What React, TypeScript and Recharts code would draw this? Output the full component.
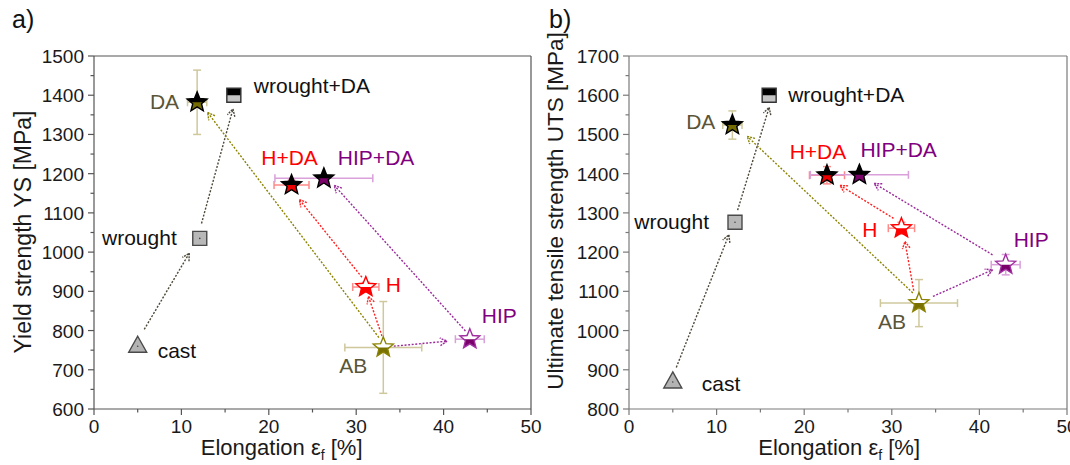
import React from "react"
import { ScatterChart, Scatter, XAxis, YAxis, ErrorBar, ReferenceLine, Label } from "recharts"

const FONT = '"Liberation Sans", Arial, sans-serif'

// samples, same order in every array
const samples = ["cast", "wrought", "wrought+DA", "DA", "AB", "H", "H+DA", "HIP", "HIP+DA"]
const elongation = [5, 12.1, 16, 11.8, 33.1, 31.1, 22.6, 43, 26.3]
const elongationErr = [0, 0, 0, 1.1, 4.4, 1.5, 2, 1.65, 5.6]
const yieldStrength = [760, 1035, 1400, 1382, 757, 911, 1171, 778, 1188]
const yieldErr = [0, 0, 0, 82, 117, 12, 12, 10, 8]
const uts = [869, 1276, 1600, 1524, 1070, 1261, 1396, 1168, 1397]
const utsErr = [0, 0, 0, 36, 60, 15, 22, 26, 10]

const xTicks = [0, 5, 10, 15, 20, 25, 30, 35, 40, 45, 50]
const ysTicks = [600, 650, 700, 750, 800, 850, 900, 950, 1000, 1050, 1100, 1150, 1200, 1250, 1300, 1350, 1400, 1450, 1500]
const utsTicks = [800, 850, 900, 950, 1000, 1050, 1100, 1150, 1200, 1250, 1300, 1350, 1400, 1450, 1500, 1550, 1600, 1650, 1700]

// processing route arrows: [x1, y1, x2, y2, group]
const ysArrows: [number, number, number, number, string][] = [
  [5.75, 803, 10.9, 997, "dark"],
  [12.3, 1073, 15.9, 1365, "dark"],
  [32.6, 782, 13.0, 1356, "olive"],
  [32.95, 786, 31.4, 887, "red"],
  [30.65, 936, 23.5, 1134, "red"],
  [34.3, 760, 40.4, 773, "purple"],
  [42.5, 799, 27.5, 1170, "purple"],
]
const utsArrows: [number, number, number, number, string][] = [
  [5.4, 906, 11.4, 1244, "dark"],
  [12.4, 1307, 16.0, 1569, "dark"],
  [32.4, 1096, 13.5, 1495, "olive"],
  [32.5, 1102, 31.5, 1227, "red"],
  [30.2, 1286, 24.1, 1370, "red"],
  [34.7, 1087, 41.5, 1155, "purple"],
  [41.5, 1193, 28.0, 1375, "purple"],
]

const arrowColor: Record<string, string> = {
  dark: "#4d4838",
  olive: "#8c8400",
  red: "#ff2020",
  purple: "#9a2a9a",
}

const look: Record<string, any> = {
  cast: { kind: "tri", top: "#b3b3b3", bottom: "#b3b3b3", stroke: "#4a4a4a", text: "#111" },
  wrought: { kind: "sq", top: "#b8b8b8", bottom: "#b8b8b8", stroke: "#4a4a4a", text: "#111" },
  "wrought+DA": { kind: "sq", top: "#000", bottom: "#c4c4c4", stroke: "#333", text: "#111" },
  DA: { kind: "star", top: "#000", bottom: "#746c00", stroke: "#000", err: "#cfc89c", text: "#5a5438" },
  AB: { kind: "star", top: "#fff", bottom: "#7a7200", stroke: "#8a8200", err: "#cfc89c", text: "#5a5438" },
  H: { kind: "star", top: "#fff", bottom: "#ff0000", stroke: "#ff0000", err: "#ff8a8a", text: "#ff0000" },
  "H+DA": { kind: "star", top: "#000", bottom: "#ee0000", stroke: "#000", err: "#ff8a8a", text: "#ff0000" },
  HIP: { kind: "star", top: "#fff", bottom: "#7a006a", stroke: "#a030a0", err: "#d9a0d9", text: "#800080" },
  "HIP+DA": { kind: "star", top: "#000", bottom: "#7a006a", stroke: "#000", err: "#d9a0d9", text: "#800080" },
}

const ysLabels: Record<string, [number, number, string]> = {
  cast: [20, 5, "start"],
  wrought: [-23, 0, "end"],
  "wrought+DA": [20, -9, "start"],
  DA: [-18, 0, "end"],
  AB: [-16, 19, "end"],
  H: [20, -2, "start"],
  "H+DA": [-2, -27, "middle"],
  HIP: [12, -23, "start"],
  "HIP+DA": [14, -20, "start"],
}
const utsLabels: Record<string, [number, number, string]> = {
  cast: [29, 2, "start"],
  wrought: [-26, 0, "end"],
  "wrought+DA": [19, 0, "start"],
  DA: [-17, -3, "end"],
  AB: [-13, 19, "end"],
  H: [-24, 2, "end"],
  "H+DA": [-9, -23, "middle"],
  HIP: [8, -25, "start"],
  "HIP+DA": [1, -25, "start"],
}

function starPoints(cx: number, cy: number, R: number, r: number) {
  const pts: string[] = []
  for (let i = 0; i < 10; i++) {
    const a = -Math.PI / 2 + (i * Math.PI) / 5
    const rad = i % 2 === 0 ? R : r
    pts.push(`${cx + rad * Math.cos(a)},${cy + rad * Math.sin(a)}`)
  }
  return pts.join(" ")
}

function Point(props: any) {
  const { cx, cy, name, labels, id } = props
  if (cx == null || cy == null) return null
  const st = look[name]
  const [dx, dy, anchor] = labels[name]
  let pts = ""
  if (st.kind === "star") pts = starPoints(cx, cy, 10.5, 4.6)
  if (st.kind === "sq") pts = `${cx - 7},${cy - 7} ${cx + 7},${cy - 7} ${cx + 7},${cy + 7} ${cx - 7},${cy + 7}`
  if (st.kind === "tri") pts = `${cx},${cy - 10} ${cx + 9},${cy + 6} ${cx - 9},${cy + 6}`
  return (
    <g>
      <defs>
        <clipPath id={id}>
          <rect x={cx - 15} y={cy} width={30} height={16} />
        </clipPath>
      </defs>
      <polygon points={pts} fill={st.top} />
      <polygon points={pts} fill={st.bottom} clipPath={`url(#${id})`} />
      <polygon points={pts} fill="none" stroke={st.stroke} strokeWidth={1.4} />
      {st.kind !== "star" && name !== "wrought+DA" && <circle cx={cx} cy={cy} r={0.8} fill="#444" />}
      <text x={cx + dx} y={cy + dy + 7} textAnchor={anchor} fontSize={21} fontFamily={FONT} fill={st.text}>
        {name}
      </text>
    </g>
  )
}

function Arrow(props: any) {
  const { x1, y1, x2, y2, color } = props
  if (x1 == null) return null
  const ang = Math.atan2(y2 - y1, x2 - x1)
  const L = 8
  const a = 0.5
  const p1 = `${x2 - L * Math.cos(ang - a)},${y2 - L * Math.sin(ang - a)}`
  const p2 = `${x2 - L * Math.cos(ang + a)},${y2 - L * Math.sin(ang + a)}`
  return (
    <g>
      <line x1={x1} y1={y1} x2={x2} y2={y2} stroke={color} strokeWidth={1.4} strokeDasharray="2 1.6" />
      <polyline points={`${p1} ${x2},${y2} ${p2}`} fill="none" stroke={color} strokeWidth={1.4} strokeDasharray="2 1" />
    </g>
  )
}

function XTick(props: any) {
  const { x, y, payload, axisColor } = props
  const v = payload.value
  const major = v % 10 === 0
  return (
    <g>
      <line x1={x} y1={y} x2={x} y2={y + (major ? 6 : 3.5)} stroke={axisColor} strokeWidth={1.2} />
      {major && (
        <text x={x} y={y + 24} textAnchor="middle" fontSize={19} fontFamily={FONT} fill="#1a1a1a">
          {v}
        </text>
      )}
    </g>
  )
}

function YTick(props: any) {
  const { x, y, payload, axisColor } = props
  const v = payload.value
  const major = v % 100 === 0
  return (
    <g>
      <line x1={x} y1={y} x2={x - (major ? 6 : 3.5)} y2={y} stroke={axisColor} strokeWidth={1.2} />
      {major && (
        <text x={x - 10} y={y + 7} textAnchor="end" fontSize={19} fontFamily={FONT} fill="#1a1a1a">
          {v}
        </text>
      )}
    </g>
  )
}

function Panel(props: any) {
  const { values, errors, ticks, domain, arrows, labels, title, titleX, titleY, titleSize, xEnd, width, yWidth, right, axisColor, tag } = props
  return (
    <ScatterChart width={width} height={465} margin={{ top: 56, right: right, bottom: 6, left: 0 }}>
      <XAxis
        type="number"
        dataKey="x"
        domain={[0, 50]}
        ticks={xTicks}
        interval={0}
        tickSize={0}
        tickMargin={0}
        tickLine={false}
        height={50}
        stroke={axisColor}
        strokeWidth={1.2}
        tick={<XTick axisColor={axisColor} />}
      >
        <Label
          content={(p: any) => (
            <text x={p.viewBox.x + p.viewBox.width / 2 + xEnd} y={p.viewBox.y + 46} textAnchor="end" fontSize={22} fontFamily={FONT} fill="#1a1a1a">
              Elongation ε<tspan fontSize={14} dy={5}>f</tspan>
              <tspan dy={-5}> [%]</tspan>
            </text>
          )}
        />
      </XAxis>
      <YAxis
        type="number"
        dataKey="y"
        domain={domain}
        ticks={ticks}
        interval={0}
        tickSize={0}
        tickMargin={0}
        tickLine={false}
        width={yWidth}
        stroke={axisColor}
        strokeWidth={1.2}
        tick={<YTick axisColor={axisColor} />}
      >
        <Label
          content={() => (
            <text
              x={titleX}
              y={titleY}
              transform={`rotate(-90 ${titleX} ${titleY})`}
              textAnchor="middle"
              dominantBaseline="central"
              fontSize={titleSize}
              fontFamily={FONT}
              fill="#1a1a1a"
            >
              {title}
            </text>
          )}
        />
      </YAxis>
      <ReferenceLine y={domain[1]} stroke={axisColor} strokeWidth={1.2} />
      <ReferenceLine x={50} stroke={axisColor} strokeWidth={1.2} />
      {arrows.map((a: any, i: number) => (
        <ReferenceLine
          key={"a" + i}
          segment={[{ x: a[0], y: a[1] }, { x: a[2], y: a[3] }]}
          shape={(p: any) => <Arrow {...p} color={arrowColor[a[4]]} />}
        />
      ))}
      {samples.map((s, i) => (
        <Scatter
          key={s}
          name={s}
          data={[{ x: elongation[i], y: values[i], ex: elongationErr[i], ey: errors[i] }]}
          isAnimationActive={false}
          shape={(p: any) => <Point {...p} name={s} labels={labels} id={`${tag}-${i}`} />}
        >
          {elongationErr[i] > 0 && <ErrorBar dataKey="ex" direction="x" width={4} stroke={look[s].err} strokeWidth={1.5} />}
          {errors[i] > 0 && <ErrorBar dataKey="ey" direction="y" width={4} stroke={look[s].err} strokeWidth={1.5} />}
        </Scatter>
      ))}
    </ScatterChart>
  )
}

export default function App() {
  return (
    <div style={{ position: "absolute", left: 0, top: 0, width: 1070, height: 465, background: "#fff", overflow: "hidden" }}>
      <div style={{ position: "absolute", left: 12, top: 5, fontFamily: FONT, fontSize: 25, color: "#111" }}>a)</div>
      <div style={{ position: "absolute", left: 549, top: 5, fontFamily: FONT, fontSize: 25, color: "#111" }}>b)</div>
      <div style={{ position: "absolute", left: 0, top: 0 }}>
        <Panel
          tag="ys"
          values={yieldStrength}
          errors={yieldErr}
          ticks={ysTicks}
          domain={[600, 1500]}
          arrows={ysArrows}
          labels={ysLabels}
          title="Yield strength YS [MPa]"
          titleX={23}
          titleY={232}
          titleSize={23}
          xEnd={50}
          width={560}
          yWidth={94}
          right={29}
          axisColor="#555"
        />
      </div>
      <div style={{ position: "absolute", left: 540, top: 0 }}>
        <Panel
          tag="uts"
          values={uts}
          errors={utsErr}
          ticks={utsTicks}
          domain={[800, 1700]}
          arrows={utsArrows}
          labels={utsLabels}
          title="Ultimate tensile strength UTS [MPa]"
          titleX={15}
          titleY={211}
          titleSize={22.5}
          xEnd={72}
          width={530}
          yWidth={89}
          right={3}
          axisColor="#7a7a7a"
        />
      </div>
    </div>
  )
}
